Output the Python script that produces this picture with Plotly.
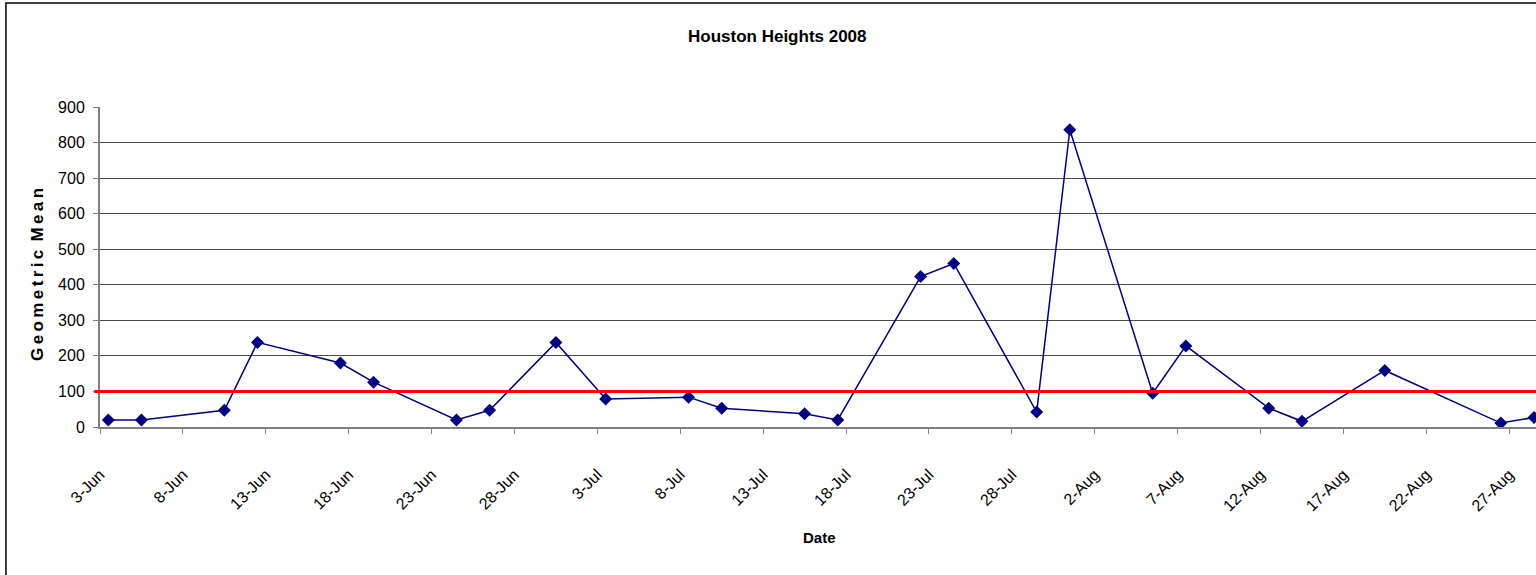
import pandas as pd
import plotly.graph_objects as go

# ---- data ----
DATES = ["2008-06-03", "2008-06-05", "2008-06-10", "2008-06-12", "2008-06-17",
         "2008-06-19", "2008-06-24", "2008-06-26", "2008-06-30", "2008-07-03",
         "2008-07-08", "2008-07-10", "2008-07-15", "2008-07-17", "2008-07-22",
         "2008-07-24", "2008-07-29", "2008-07-31", "2008-08-05", "2008-08-07",
         "2008-08-12", "2008-08-14", "2008-08-19", "2008-08-26", "2008-08-28"]
GEO_MEAN = [20, 20, 47, 238, 180, 126, 20, 47, 238, 79, 84, 53, 37, 20, 423,
            460, 42, 836, 95, 228, 53, 16, 159, 11, 27]
THRESHOLD = 100
TICK_LABELS = ["3-Jun", "8-Jun", "13-Jun", "18-Jun", "23-Jun", "28-Jun", "3-Jul",
               "8-Jul", "13-Jul", "18-Jul", "23-Jul", "28-Jul", "2-Aug", "7-Aug",
               "12-Aug", "17-Aug", "22-Aug", "27-Aug"]
Y_TICKS = [0, 100, 200, 300, 400, 500, 600, 700, 800, 900]

SANS = "Liberation Sans, Arial, sans-serif"

# points sit in the middle of each day slot (Excel date axis, between tick marks)
x_pts = pd.to_datetime(DATES) + pd.Timedelta(hours=12)
tick_vals = pd.date_range("2008-06-03", periods=len(TICK_LABELS), freq="5D")
x_start = pd.Timestamp("2008-06-03")
x_end = x_start + pd.Timedelta(days=86.62)

fig = go.Figure()
fig.add_trace(go.Scatter(
    x=x_pts, y=GEO_MEAN, mode="lines+markers",
    line=dict(color="#000080", width=1.5),
    marker=dict(symbol="diamond", size=10, color="#000080"),
    showlegend=False, cliponaxis=True,
))

fig.update_layout(
    width=1536, height=575,
    margin=dict(l=100, r=0, t=107, b=148),
    paper_bgcolor="white", plot_bgcolor="white",
    font=dict(family=SANS, color="black", size=15),
    xaxis=dict(
        type="date", range=[x_start, x_end],
        tickvals=tick_vals, ticktext=TICK_LABELS, tickangle=-45,
        ticks="outside", ticklen=5, tickcolor="#808080", tickwidth=1,
        showline=True, linecolor="#808080", linewidth=2,
        showgrid=False, zeroline=False,
        tickfont=dict(family=SANS, size=16, color="black"),
        ticklabelstandoff=25,
    ),
    yaxis=dict(
        range=[0, 900], tickvals=Y_TICKS,
        ticks="outside", ticklen=5, tickcolor="#808080", tickwidth=1,
        showline=True, linecolor="#808080", linewidth=2,
        showgrid=True, gridcolor="#4a4a4a", gridwidth=1, zeroline=False,
        tickfont=dict(family=SANS, size=16, color="black"),
        ticklabelstandoff=5,
    ),
    shapes=[
        dict(type="line", xref="paper", yref="y", x0=-0.004, x1=1,
             y0=THRESHOLD, y1=THRESHOLD, line=dict(color="#ff0000", width=3)),
        dict(type="rect", xref="paper", yref="paper", x0=-0.0655, x1=1.02,
             y0=-0.5, y1=1.325, line=dict(color="black", width=1.5),
             layer="above"),
    ],
    annotations=[
        dict(text="<b>Houston Heights 2008</b>", xref="paper", yref="paper",
             x=0.4721, y=1.219, xanchor="center", yanchor="middle",
             showarrow=False, font=dict(family=SANS, size=17, color="black")),
        dict(text="<b>Date</b>", xref="paper", yref="paper",
             x=0.501, y=-0.344, xanchor="center", yanchor="middle",
             showarrow=False, font=dict(family=SANS, size=15, color="black")),
        dict(text="<b>G\u2009e\u2009o\u2009m\u2009e\u2009t\u2009r\u2009i\u2009c\u2009 M\u2009e\u2009a\u2009n</b>",
             xref="paper", yref="paper", x=-0.0439, y=0.478, textangle=-90,
             xanchor="center", yanchor="middle", showarrow=False,
             font=dict(family=SANS, size=17, color="black")),
    ],
)

fig.write_html("out.html", config={"displayModeBar": False},
               post_script="document.body.style.margin='0';document.body.style.overflow='hidden';")
